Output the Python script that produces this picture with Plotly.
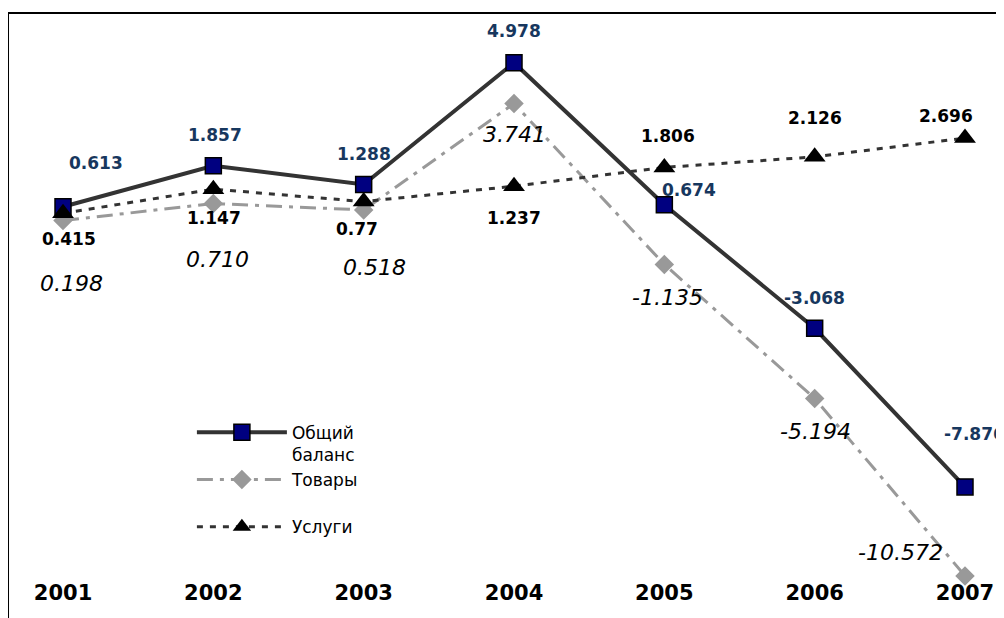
import plotly.graph_objects as go

years = ["2001", "2002", "2003", "2004", "2005", "2006", "2007"]
total = [0.613, 1.857, 1.288, 4.978, 0.674, -3.068, -7.876]
goods = [0.198, 0.710, 0.518, 3.741, -1.135, -5.194, -10.572]
services = [0.415, 1.147, 0.77, 1.237, 1.806, 2.126, 2.696]
total_txt = ["0.613", "1.857", "1.288", "4.978", "0.674", "-3.068", "-7.876"]
goods_txt = ["0.198", "0.710", "0.518", "3.741", "-1.135", "-5.194", "-10.572"]
services_txt = ["0.415", "1.147", "0.77", "1.237", "1.806", "2.126", "2.696"]

# label offsets in pixels (dx, dy up)
total_off = [(33, 44), (2, 31), (0, 31), (0, 32), (25, 15), (0, 30), (9, 53)]
goods_off = [(8, -63), (4, -56), (11, -58), (0, -31), (3, -33), (1, -33), (-65, 23)]
serv_off = [(6, -26), (1, -29), (-7, -27), (0, -32), (4, 31), (0, 39), (-19, 22)]

FONT = "DejaVu Sans, Arial, Liberation Sans"
BLUE = "#17375E"

fig = go.Figure()
fig.add_trace(go.Scatter(
    x=years, y=total, name="Общий<br>баланс", mode="lines+markers",
    line=dict(color="#333333", width=4),
    marker=dict(symbol="square", size=16, color="#000080", line=dict(color="black", width=1.5)),
    cliponaxis=False,
))
fig.add_trace(go.Scatter(
    x=years, y=goods, name="Товары<br> ", mode="lines+markers",
    line=dict(color="#999999", width=3, dash="16px,7px,4px,7px"),
    marker=dict(symbol="diamond", size=15, color="#999999"),
    cliponaxis=False,
))
fig.add_trace(go.Scatter(
    x=years, y=services, name="Услуги", mode="lines+markers",
    line=dict(color="#333333", width=3, dash="6px,7px"),
    marker=dict(symbol="triangle-up", size=19, color="black"),
    cliponaxis=False,
))

for i, yr in enumerate(years):
    fig.add_annotation(x=i, y=total[i], text="<b>%s</b>" % total_txt[i], showarrow=False,
                       xshift=total_off[i][0], yshift=total_off[i][1],
                       font=dict(family=FONT, size=17, color=BLUE))
    fig.add_annotation(x=i, y=goods[i], text="<i>%s</i>" % goods_txt[i], showarrow=False,
                       xshift=goods_off[i][0], yshift=goods_off[i][1],
                       font=dict(family=FONT, size=22, color="black"))
    fig.add_annotation(x=i, y=services[i], text="<b>%s</b>" % services_txt[i], showarrow=False,
                       xshift=serv_off[i][0], yshift=serv_off[i][1],
                       font=dict(family=FONT, size=17, color="black"))

fig.update_layout(
    width=996, height=610,
    margin=dict(l=2, r=0, t=5, b=40),
    paper_bgcolor="white", plot_bgcolor="white",
    showlegend=True,
    legend=dict(x=0.183, y=0.289, xanchor="left", yanchor="top",
                bgcolor="rgba(0,0,0,0)", itemwidth=90, valign="top",
                font=dict(family=FONT, size=17, color="black"),
                tracegroupgap=0),
    xaxis=dict(type="category", range=[-0.3526, 6.2594], showgrid=False, zeroline=False,
               showline=False, ticks="", tickfont=dict(family=FONT, size=21, color="black"),
               tickprefix="<b>", ticksuffix="</b>"),
    yaxis=dict(range=[-10.636, 6.485], showgrid=False, zeroline=False, showline=False,
               showticklabels=False, ticks=""),
    shapes=[
        dict(type="line", xref="paper", yref="paper", x0=-0.002, x1=1.02, y0=1, y1=1,
             line=dict(color="black", width=2)),
        dict(type="line", xref="paper", yref="paper", x0=-0.002, x1=-0.002, y0=1, y1=-0.1,
             line=dict(color="black", width=2)),
    ],
)

fig.write_html("out.html")
